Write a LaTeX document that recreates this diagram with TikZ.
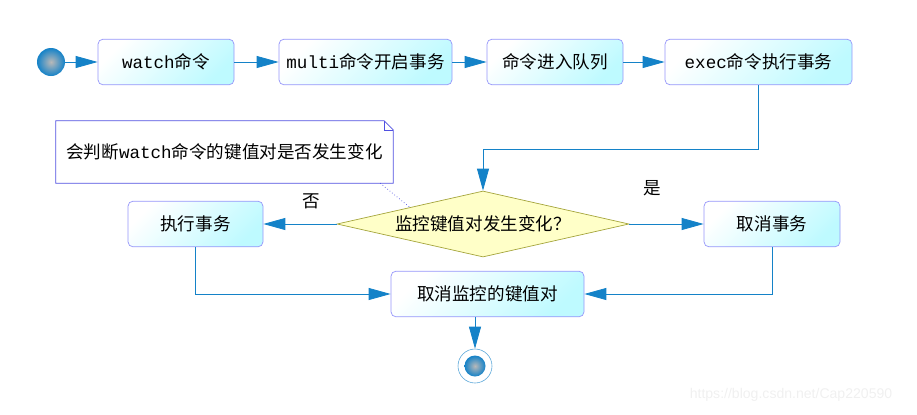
\documentclass[tikz,border=0pt]{standalone}
\usepackage{fontspec}
\setmainfont{Noto Sans CJK SC}
\setmonofont{Liberation Mono}
\newfontfamily\wmfont{Liberation Sans}
\usepackage{xcolor}
\usetikzlibrary{shapes.geometric, arrows.meta, positioning, calc}

\definecolor{boxcyan}{RGB}{190,250,255}
\definecolor{boxedge}{RGB}{150,150,250}
\definecolor{flowblue}{RGB}{20,130,200}
\definecolor{diafill}{RGB}{255,255,200}
\definecolor{diaedge}{RGB}{165,165,60}
\definecolor{noteedge}{RGB}{80,80,225}

\begin{document}
\begin{tikzpicture}[x=0.03cm, y=-0.03cm,
    act/.style={rectangle, draw=boxedge, line width=0.6pt, rounded corners=1.5mm, top color=white, bottom color=boxcyan, shading angle=45, minimum height=1.37cm, inner sep=2pt, font=\fontsize{15}{18}\selectfont},
    choice/.style={diamond, draw=diaedge, line width=0.6pt, fill=diafill, aspect=4.4, minimum width=8.76cm, minimum height=1.98cm, inner sep=0pt, font=\fontsize{15}{18}\selectfont},
    flow/.style={-{Triangle[length=6.6mm, width=3.6mm]}, flowblue, line width=0.7pt},
    lbl/.style={font=\fontsize{15}{18}\selectfont}
]
\useasboundingbox (0,0) rectangle (917,414);

% Start and first row
\node[circle, minimum size=0.84cm, inner sep=0pt, inner color=gray!55, outer color=flowblue] (begin) at (51,62) {};
\node[act, minimum width=4.08cm] (watch) at (166,62) {{\ttfamily watch}命令};
\node[act, minimum width=5.19cm] (multi) at (365.5,62) {{\ttfamily multi}命令开启事务};
\node[act, minimum width=4.08cm] (queue) at (555,62) {命令进入队列};
\node[act, minimum width=5.61cm] (exec) at (758.5,62) {{\ttfamily exec}命令执行事务};

% Note
\node[minimum width=10.11cm, minimum height=1.86cm, inner sep=0pt, lbl] (note) at (224.5,152) {会判断{\ttfamily watch}命令的键值对是否发生变化};
\draw[noteedge, line width=0.6pt] (note.north west) -- ($(note.north east)+(-9,0)$) -- ($(note.north east)+(0,9)$) -- (note.south east) -- (note.south west) -- cycle;
\draw[noteedge, line width=0.4pt] ($(note.north east)+(-9,0)$) -- ($(note.north east)+(-9,9)$) -- ($(note.north east)+(0,9)$);

% Decision row
\coordinate (turn) at (483,149);
\node[choice] (check) at (483,224) {监控键值对发生变化？};
\node[act, minimum width=4.05cm] (run) at (195.5,224) {执行事务};
\node[act, minimum width=4.08cm] (abort) at (772,224) {取消事务};
\node[lbl] (no) at (311,201) {否};
\node[lbl] (yes) at (652,188) {是};

% Final step and end
\node[act, minimum width=5.79cm] (unwatch) at (487.5,294) {取消监控的键值对};
\node[circle, draw=flowblue!70, line width=0.5pt, fill=white, minimum size=1.02cm, inner sep=0pt] (stop) at (475,366) {};
\node[circle, minimum size=0.63cm, inner sep=0pt, inner color=gray!55, outer color=flowblue] (stopdot) at (475,366) {};

% Watermark
\node[text=gray!12, font=\wmfont\fontsize{12}{14}\selectfont] (mark) at (791,395) {https://blog.csdn.net/Cap220590};

% Arrows
\draw[flow] (begin) -- (watch);
\draw[flow] (watch) -- (multi);
\draw[flow] (multi) -- (queue);
\draw[flow] (queue) -- (exec);
\draw[flow] (exec.south) |- (turn) -- (check.north);
\draw[flow] (check) -- (run);
\draw[flow] (check) -- (abort);
\draw[flow] (run.south) |- (unwatch.west);
\draw[flow] (abort.south) |- (unwatch.east);
\draw[flow] (unwatch.south -| stop.north) -- (stop.north);
\draw[noteedge, dotted, line width=0.6pt] ($(note.south east)+(-13,0)$) -- (check.north west);

\end{tikzpicture}
\end{document}
